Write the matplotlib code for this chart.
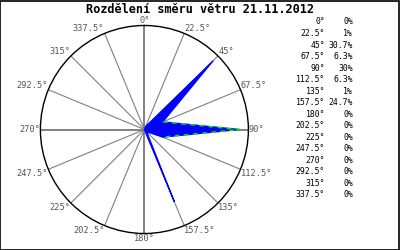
import numpy as np
import matplotlib
matplotlib.use("Agg")
import matplotlib.pyplot as plt
from matplotlib.patches import Rectangle

title = "Rozdělení směru větru 21.11.2012"
directions = [0, 22.5, 45, 67.5, 90, 112.5, 135, 157.5, 180, 202.5, 225, 247.5, 270, 292.5, 315, 337.5]
dir_labels = ["0°", "22.5°", "45°", "67.5°", "90°", "112.5°", "135°", "157.5°", "180°",
              "202.5°", "225°", "247.5°", "270°", "292.5°", "315°", "337.5°"]
percent = [0, 1, 30.7, 6.3, 30, 6.3, 1, 24.7, 0, 0, 0, 0, 0, 0, 0, 0]
pct_labels = ["0%", "1%", "30.7%", "6.3%", "30%", "6.3%", "1%", "24.7%", "0%",
              "0%", "0%", "0%", "0%", "0%", "0%", "0%"]
rmax = 32.8

mono = ["DejaVu Sans Mono"]
fig = plt.figure(figsize=(4, 2.5), dpi=100)
fig.patch.set_facecolor("white")
rect = [0.101, 0.066, 0.52, 0.832]
ax = fig.add_axes(rect, projection="polar")
ax.set_theta_zero_location("N")
ax.set_theta_direction(-1)
ax.set_ylim(0, rmax)
ax.grid(False)
ax.set_xticks([])
ax.set_yticks([])
ax.spines["polar"].set_color("black")
ax.spines["polar"].set_linewidth(1.0)

th = np.deg2rad(directions)
for d, t in zip(directions, th):
    main = d % 90 == 0
    ax.plot([t, t], [0, rmax], color="#777777" if main else "#808080",
            lw=1.3 if main else 0.8, zorder=1, solid_capstyle="butt")

for d, t, lab in zip(directions, th, dir_labels):
    s, c = np.sin(t), np.cos(t)
    ha = "center" if abs(s) < 1e-6 else ("left" if s > 0 else "right")
    va = "center" if abs(c) < 1e-6 else ("bottom" if c > 0 else "top")
    ax.text(t, rmax * 1.005, lab, ha=ha, va=va, fontsize=6.2, color="#555555",
            family=mono, clip_on=False)

# straight-edged polygon in a cartesian overlay
ax2 = fig.add_axes(rect)
ax2.set_xlim(-rmax, rmax)
ax2.set_ylim(-rmax, rmax)
ax2.axis("off")
pv = np.array(percent)
xs = pv * np.sin(th)
ys = pv * np.cos(th)
ax2.fill(np.append(xs, xs[0]), np.append(ys, ys[0]), facecolor="#0000ff",
         edgecolor="#0000ff", lw=0.9, joinstyle="miter", zorder=3)
sel = [3, 4, 5]
ax2.plot(xs[sel], ys[sel], color="#00ee00", lw=1.1, ls=(0, (3, 3)), zorder=4)

fig.text(0.5, 0.962, title, ha="center", va="center", fontsize=8.6,
         fontweight="bold", family=mono)

y0, dy = 1 - 22 / 250, 11.53 / 250
for i, (dl, pl) in enumerate(zip(dir_labels, pct_labels)):
    y = y0 - i * dy
    fig.text(325 / 400, y, dl, ha="right", va="center", fontsize=5.9, family=mono)
    fig.text(353 / 400, y, pl, ha="right", va="center", fontsize=5.9, family=mono)

fig.add_artist(Rectangle((0.0012, 0.002), 0.9965, 0.995, transform=fig.transFigure,
                         fill=False, edgecolor="black", lw=1.2))
fig.savefig("out.png", dpi=100)
